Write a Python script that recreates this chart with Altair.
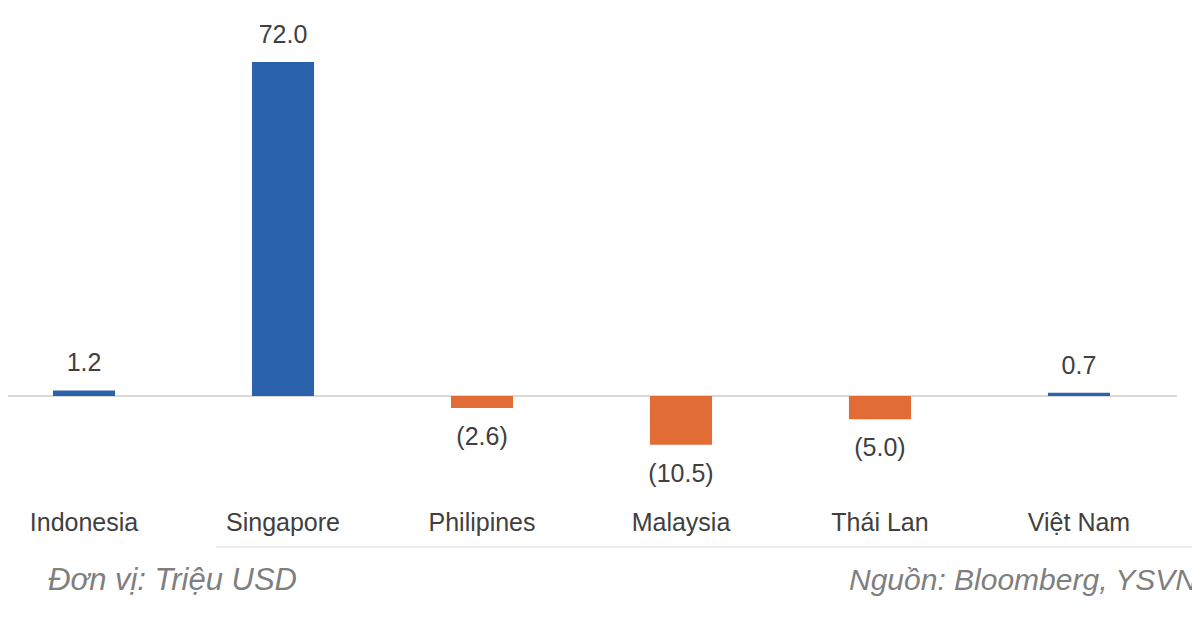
import altair as alt
import pandas as pd

categories = ["Indonesia", "Singapore", "Philipines", "Malaysia", "Thái Lan", "Việt Nam"]
values = [1.2, 72.0, -2.6, -10.5, -5.0, 0.7]

unit_note = "Đơn vị: Triệu USD"
source_note = "Nguồn: Bloomberg, YSVN"

BLUE = "#2A62AB"
ORANGE = "#E16C36"
FONT = "Liberation Sans"

df = pd.DataFrame({"cat": categories, "val": values})

x_enc = alt.X(
    "cat:N",
    sort=categories,
    scale=alt.Scale(paddingInner=0.688, paddingOuter=0.226),
    axis=alt.Axis(
        title=None, domain=False, ticks=False, tickSize=0, grid=False,
        labelAngle=0, labelPadding=-25, labelBaseline="middle",
        labelFontSize=25, labelColor="#404040", labelFont=FONT,
    ),
)
y_scale = alt.Scale(domain=[-32.55, 83.64], nice=False, zero=False)

base = alt.Chart(df)

zero_rule = alt.Chart(pd.DataFrame({"z": [0]})).mark_rule(
    color="#D9D9D9", strokeWidth=2
).encode(
    y=alt.Y("z:Q", scale=y_scale, axis=None),
    x=alt.value(-8),
    x2=alt.value(1169),
)

bottom_rule = alt.Chart(pd.DataFrame({"z": [0]})).mark_rule(
    color="#E6E6E6", strokeWidth=1.5
).encode(
    x=alt.value(208),
    x2=alt.value(1192),
    y=alt.value(539),
)

bars = base.mark_bar().encode(
    x=x_enc,
    y=alt.Y("val:Q", scale=y_scale, axis=None),
    color=alt.condition(alt.datum.val >= 0, alt.value(BLUE), alt.value(ORANGE)),
)

labels_src = base.transform_calculate(
    lab="datum.val >= 0 ? format(datum.val, '.1f') : '(' + format(-datum.val, '.1f') + ')'"
)

pos_labels = labels_src.transform_filter(alt.datum.val >= 0).mark_text(
    baseline="middle", dy=-27, fontSize=25, color="#404040", font=FONT
).encode(
    x=alt.X("cat:N", sort=categories),
    y=alt.Y("val:Q", scale=y_scale),
    text="lab:N",
)

neg_labels = labels_src.transform_filter(alt.datum.val < 0).mark_text(
    baseline="middle", dy=29, fontSize=25, color="#404040", font=FONT
).encode(
    x=alt.X("cat:N", sort=categories),
    y=alt.Y("val:Q", scale=y_scale),
    text="lab:N",
)

unit_text = alt.Chart(pd.DataFrame({"t": [unit_note]})).mark_text(
    align="left", baseline="alphabetic", fontSize=31, fontStyle="italic",
    color="#7F7F7F", font=FONT
).encode(x=alt.value(40), y=alt.value(582), text="t:N")

source_text = alt.Chart(pd.DataFrame({"t": [source_note]})).mark_text(
    align="left", baseline="alphabetic", fontSize=30, fontStyle="italic",
    color="#7F7F7F", font=FONT
).encode(x=alt.value(841), y=alt.value(582), text="t:N")

chart = alt.layer(
    zero_rule, bottom_rule, bars, pos_labels, neg_labels, unit_text, source_text
).properties(
    width=1147,
    height=539,
    autosize=alt.AutoSizeParams(type="none"),
    padding={"left": 0, "top": 0, "right": 37, "bottom": 75},
    background="white",
).configure_view(stroke=None)

chart.save("out.html", embed_options={"renderer": "svg", "actions": False})
